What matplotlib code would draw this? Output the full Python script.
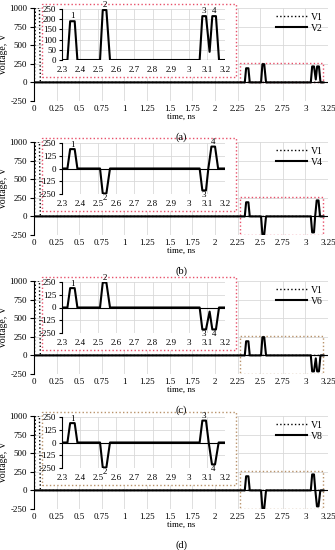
import matplotlib
matplotlib.use('Agg')
import matplotlib.pyplot as plt
from matplotlib.patches import Rectangle

plt.rcParams['font.family'] = ['Liberation Serif', 'DejaVu Serif']
plt.rcParams['axes.unicode_minus'] = False

# V1 reference pulse (same in all panels)
t1 = [0, 0.005, 0.015, 0.06, 0.07, 3.2]
v1 = [0, 0, 1000, 1000, 0, 0]

# output pulses, one per panel
t_a = [0, 2.33, 2.345, 2.37, 2.385, 2.51, 2.525, 2.545, 2.565, 3.06, 3.075, 3.095, 3.115, 3.13, 3.15, 3.167, 3.2]
v_a = [0, 0, 190, 190, 0, 0, 245, 245, 0, 0, 215, 215, 40, 215, 215, 0, 0]

t_b = [0, 2.33, 2.345, 2.37, 2.385, 2.51, 2.525, 2.545, 2.565, 3.06, 3.075, 3.095, 3.108, 3.125, 3.145, 3.162, 3.2]
v_b = [0, 0, 190, 190, 0, 0, -245, -245, 0, 0, -215, -215, 0, 215, 215, 0, 0]

t_c = [0, 2.33, 2.345, 2.37, 2.385, 2.51, 2.525, 2.545, 2.565, 3.06, 3.075, 3.095, 3.115, 3.13, 3.15, 3.167, 3.2]
v_c = [0, 0, 190, 190, 0, 0, 245, 245, 0, 0, -215, -215, -40, -215, -215, 0, 0]

t_d = [0, 2.33, 2.345, 2.37, 2.385, 2.51, 2.525, 2.545, 2.565, 3.06, 3.075, 3.095, 3.11, 3.128, 3.145, 3.165, 3.2]
v_d = [0, 0, 190, 190, 0, 0, -245, -245, 0, 0, 215, 215, 0, -215, -215, 0, 0]

names = ['V2', 'V4', 'V6', 'V8']
captions = ['(a)', '(b)', '(c)', '(d)']
times = [t_a, t_b, t_c, t_d]
volts = [v_a, v_b, v_c, v_d]

# pulse number labels: (x, y, text, above?)
labels = [
    [(2.357, 190, '1', True), (2.535, 245, '2', True), (3.085, 215, '3', True), (3.14, 215, '4', True)],
    [(2.357, 190, '1', True), (2.535, -245, '2', False), (3.085, -215, '3', False), (3.135, 215, '4', True)],
    [(2.357, 190, '1', True), (2.535, 245, '2', True), (3.085, -215, '3', False), (3.14, -215, '4', False)],
    [(2.357, 190, '1', True), (2.535, -245, '2', False), (3.085, 215, '3', True), (3.137, -215, '4', False)],
]

main_ticks_x = [0, 0.25, 0.5, 0.75, 1, 1.25, 1.5, 1.75, 2, 2.25, 2.5, 2.75, 3, 3.25]
main_ticklabels_x = ['0', '0.25', '0.5', '0.75', '1', '1.25', '1.5', '1.75', '2', '2.25', '2.5', '2.75', '3', '3.25']
main_ticks_y = [-250, 0, 250, 500, 750, 1000]
inset_ticks_x = [2.3, 2.4, 2.5, 2.6, 2.7, 2.8, 2.9, 3.0, 3.1, 3.2]
inset_ticklabels_x = ['2.3', '2.4', '2.5', '2.6', '2.7', '2.8', '2.9', '3', '3.1', '3.2']

W, H = 335, 550
fig = plt.figure(figsize=(3.35, 5.5), dpi=100)

def px_rect(l, t, r, b):
    return [l / W, 1 - b / H, (r - l) / W, (b - t) / H]

tops = [8, 142, 281, 416]
red = '#E8506A'
tan = '#B8926A'
frame_cols = [red, red, red, tan]
box_cols = [red, red, tan, tan]
fs = 6.5
grid_c = '#D9D9D9'

for i in range(4):
    top = tops[i]
    ax = fig.add_axes(px_rect(34, top, 328, top + 93))
    ax.plot(t1, v1, ':', color='black', lw=1, label='V1')
    ax.plot(times[i], volts[i], '-', color='black', lw=1.5, label=names[i])
    ax.set_xlim(0, 3.25)
    ax.set_ylim(-250, 1000)
    ax.set_xticks(main_ticks_x)
    ax.set_xticklabels(main_ticklabels_x)
    ax.set_yticks(main_ticks_y)
    ax.grid(True, color=grid_c, lw=0.6)
    ax.set_axisbelow(True)
    for s in ['top', 'right', 'bottom']:
        ax.spines[s].set_visible(False)
    ax.spines['left'].set_linewidth(0.8)
    ax.tick_params(axis='x', length=0, labelsize=fs, pad=3)
    ax.tick_params(axis='y', length=3, width=0.8, labelsize=fs, pad=2)
    ax.axhline(0, color='black', lw=0.8)
    ax.set_xlabel('time, ns', fontsize=fs, labelpad=0)
    ax.set_ylabel('Voltage, V', fontsize=7, labelpad=1)
    ax.legend(loc='upper right', frameon=False, fontsize=7, handlelength=3.2,
              borderaxespad=0.1, labelspacing=0.2, handletextpad=0.4)
    ylo = 0 if i == 0 else -250
    ax.add_patch(Rectangle((2.28, ylo), 0.91, 260 - ylo, fill=False,
                           edgecolor=box_cols[i], ls=':', lw=1))
    fig.text(181 / W, 1 - (top + 129) / H, captions[i], ha='center', va='center', fontsize=7.5)

    # inset frame and inset axes
    fr = Rectangle((42 / W, 1 - (top + 69) / H), (236 - 42) / W, 73 / H,
                   transform=fig.transFigure, facecolor='white',
                   edgecolor=frame_cols[i], ls=':', lw=1, zorder=0.5)
    fig.add_artist(fr)
    ins = fig.add_axes(px_rect(62, top + 1, 225, top + 52))
    ins.set_zorder(1)
    ins.patch.set_alpha(0)
    ins.plot(times[i], volts[i], '-', color='black', lw=1.5)
    ins.set_xlim(2.3, 3.2)
    ins.set_xticks(inset_ticks_x)
    ins.set_xticklabels(inset_ticklabels_x)
    if i == 0:
        ins.set_ylim(0, 250)
        ins.set_yticks([0, 50, 100, 150, 200, 250])
    else:
        ins.set_ylim(-250, 250)
        ins.set_yticks([-250, -125, 0, 125, 250])
    ins.grid(True, color=grid_c, lw=0.6)
    ins.set_axisbelow(True)
    for s in ['top', 'right', 'bottom']:
        ins.spines[s].set_visible(False)
    ins.spines['left'].set_linewidth(0.8)
    ins.axhline(0, color='black', lw=0.8)
    ins.tick_params(axis='x', length=0, labelsize=fs, pad=4)
    ins.tick_params(axis='y', length=2.5, width=0.8, labelsize=fs, pad=1.5)
    for (lx, ly, txt, above) in labels[i]:
        ins.text(lx, ly + (4 if above else -4), txt, ha='center',
                 va='bottom' if above else 'top', fontsize=fs, clip_on=False)

fig.savefig('out.png', dpi=100)
